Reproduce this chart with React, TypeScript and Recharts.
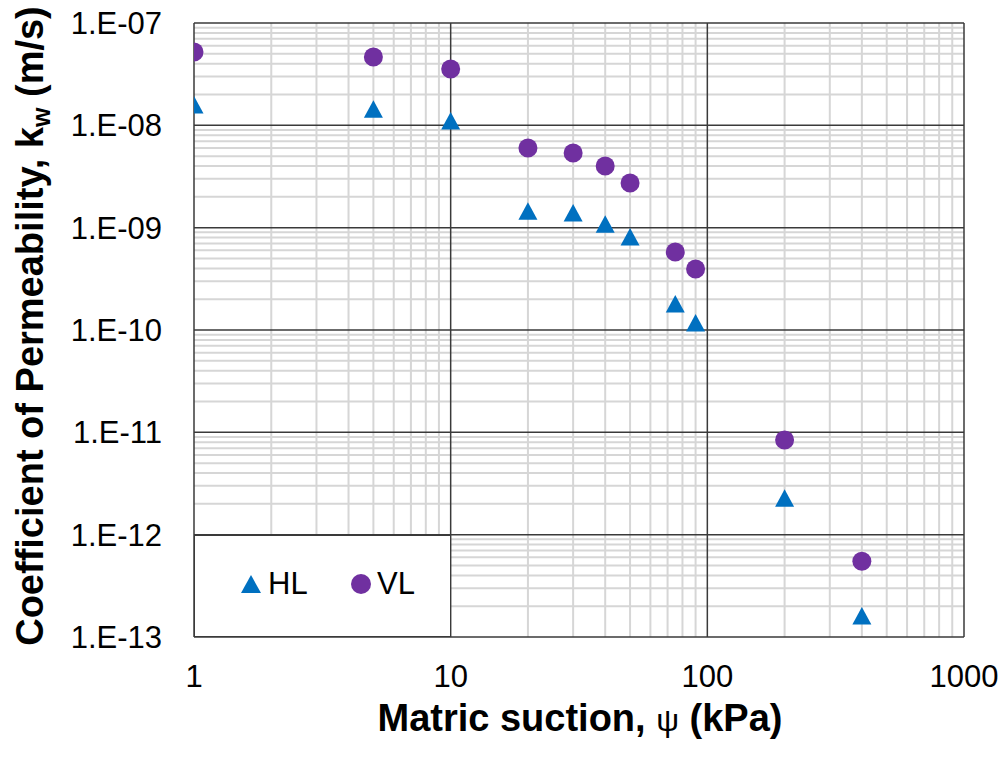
import React from 'react';
import { ScatterChart, Scatter, XAxis, YAxis, ReferenceLine, Legend } from 'recharts';

// matric suction (kPa)
const suction = [1, 5, 10, 20, 30, 40, 50, 75, 90, 200, 400];
// coefficient of permeability (m/s)
const hlK = [1.58e-8, 1.44e-8, 1.1e-8, 1.45e-9, 1.39e-9, 1.08e-9, 8.1e-10, 1.79e-10, 1.17e-10, 2.27e-12, 1.6e-13];
const vlK = [5.2e-8, 4.65e-8, 3.55e-8, 6.0e-9, 5.36e-9, 4.0e-9, 2.73e-9, 5.78e-10, 3.94e-10, 8.4e-12, 5.5e-13];

const xTicks = [1, 10, 100, 1000];
const yTicks = [1e-13, 1e-12, 1e-11, 1e-10, 1e-9, 1e-8, 1e-7];
const minorSteps = [2, 3, 4, 5, 6, 7, 8, 9];

const xMinor = xTicks.slice(0, -1).flatMap((d) => minorSteps.map((m) => d * m));
const yMinor = yTicks.slice(0, -1).flatMap((d) => minorSteps.map((m) => d * m));

const hlData = suction.map((x, i) => ({ x, y: hlK[i] }));
const vlData = suction.map((x, i) => ({ x, y: vlK[i] }));

const BLUE = '#0070C0';
const PURPLE = '#7030A0';
const FONT = '"Liberation Sans", Arial, sans-serif';

const fmtY = (v: number) => {
  const e = Math.round(-Math.log10(v));
  return `1.E-${String(e).padStart(2, '0')}`;
};

const Circle = (props: any) => <circle cx={props.cx} cy={props.cy} r={9.5} fill={PURPLE} />;
const Triangle = (props: any) => {
  const { cx, cy } = props;
  return <polygon points={`${cx},${cy - 9} ${cx - 9.5},${cy + 8.5} ${cx + 9.5},${cy + 8.5}`} fill={BLUE} />;
};

const LegendBox = () => (
  <div
    style={{
      position: 'relative',
      width: 257,
      height: 102,
      boxSizing: 'border-box',
      border: '1.5px solid #3a3a3a',
      background: '#fff',
      fontFamily: FONT,
      fontSize: 31,
      color: '#000',
    }}
  >
    <svg width={22} height={20} style={{ position: 'absolute', left: 45, top: 38 }}>
      <polygon points="11,1 1,19 21,19" fill={BLUE} />
    </svg>
    <span style={{ position: 'absolute', left: 73, top: 30, lineHeight: '36px' }}>HL</span>
    <svg width={22} height={22} style={{ position: 'absolute', left: 155, top: 37 }}>
      <circle cx={11} cy={11} r={10} fill={PURPLE} />
    </svg>
    <span style={{ position: 'absolute', left: 182, top: 30, lineHeight: '36px' }}>VL</span>
  </div>
);

const XTitle = (props: any) => {
  const vb = props.viewBox;
  return (
    <text x={vb.x + vb.width / 2 + 1} y={vb.y + 94} textAnchor="middle" fontFamily={FONT} fontSize={38} fontWeight="bold" fill="#000">
      Matric suction, <tspan fontWeight="normal" fontSize={32}>ψ</tspan> (kPa)
    </text>
  );
};

const YTitle = (props: any) => {
  const vb = props.viewBox;
  const cx = 43;
  const cy = vb.y + vb.height / 2 - 4;
  return (
    <text
      x={cx}
      y={cy}
      transform={`rotate(-90 ${cx} ${cy})`}
      textAnchor="middle"
      fontFamily={FONT}
      fontSize={38}
      fontWeight="bold"
      fill="#000"
    >
      Coefficient of Permeability, k
      <tspan fontSize={25} dy={7}>w</tspan>
      <tspan dy={-7}> (m/s)</tspan>
    </text>
  );
};

export default function App() {
  return (
    <div style={{ position: 'absolute', left: 0, top: 0, width: 1003, height: 757, background: '#fff' }}>
      <ScatterChart width={1003} height={757} margin={{ top: 23, right: 39, bottom: 0, left: 0 }}>
        <XAxis
          type="number"
          dataKey="x"
          scale="log"
          domain={[1, 1000]}
          ticks={xTicks}
          allowDataOverflow
          axisLine={false}
          tickLine={false}
          tickSize={0}
          tickMargin={28}
          height={120}
          tick={{ fontSize: 31, fill: '#000', fontFamily: FONT }}
          label={{ content: XTitle }}
        />
        <YAxis
          type="number"
          dataKey="y"
          scale="log"
          domain={[1e-13, 1e-7]}
          ticks={yTicks}
          allowDataOverflow
          axisLine={false}
          tickLine={false}
          tickSize={0}
          tickMargin={32}
          width={194}
          tickFormatter={fmtY}
          tick={{ fontSize: 31, fill: '#000', fontFamily: FONT }}
          label={{ content: YTitle }}
        />
        {xMinor.map((v) => (
          <ReferenceLine key={`xm${v}`} x={v} stroke="#d6d6d6" strokeWidth={2} />
        ))}
        {yMinor.map((v) => (
          <ReferenceLine key={`ym${v}`} y={v} stroke="#d6d6d6" strokeWidth={2} />
        ))}
        {xTicks.map((v) => (
          <ReferenceLine key={`xM${v}`} x={v} stroke="#3a3a3a" strokeWidth={1.5} />
        ))}
        {yTicks.map((v) => (
          <ReferenceLine key={`yM${v}`} y={v} stroke="#3a3a3a" strokeWidth={1.5} />
        ))}
        <Legend
          layout="vertical"
          align="center"
          verticalAlign="middle"
          content={LegendBox}
          wrapperStyle={{ position: 'absolute', left: 194, top: 535, width: 257, height: 102 }}
        />
        <Scatter name="HL" data={hlData} fill={BLUE} shape={Triangle} isAnimationActive={false} />
        <Scatter name="VL" data={vlData} fill={PURPLE} shape={Circle} isAnimationActive={false} />
      </ScatterChart>
    </div>
  );
}
